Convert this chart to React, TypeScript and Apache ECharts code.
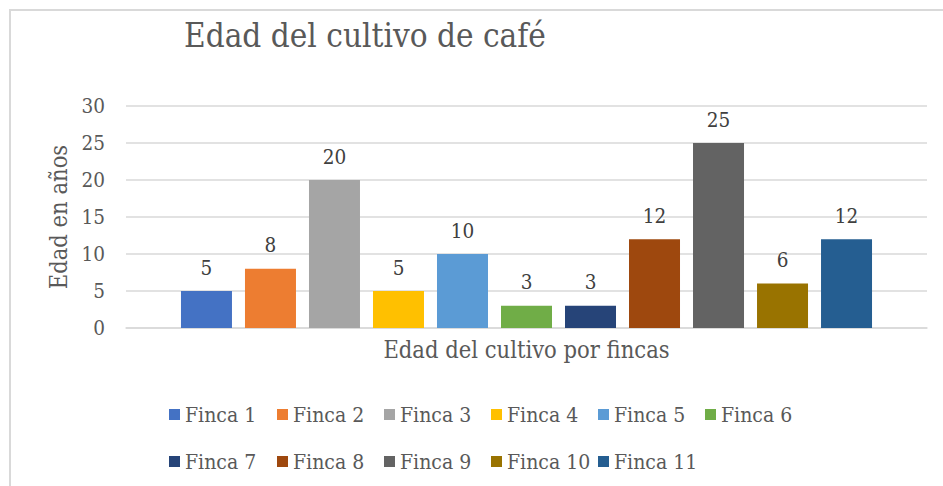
import React, { useEffect, useRef } from "react";
import * as echarts from "echarts";

const fincas = ["Finca 1", "Finca 2", "Finca 3", "Finca 4", "Finca 5", "Finca 6", "Finca 7", "Finca 8", "Finca 9", "Finca 10", "Finca 11"];
const edades = [5, 8, 20, 5, 10, 3, 3, 12, 25, 6, 12];
const colores = ["#4472C4", "#ED7D31", "#A5A5A5", "#FFC000", "#5B9BD5", "#70AD47", "#264478", "#9E480E", "#636363", "#997300", "#255E91"];
const categorias = [""];
const titulo = "Edad del cultivo de café";
const nombreY = "Edad en años";
const nombreX = "Edad del cultivo por fincas";

const FONT = "DejaVu Serif Condensed";
const legendCols = [169, 277, 384, 491, 598, 705];
const legendRows = [404, 451];

export default function App() {
  const ref = useRef<HTMLDivElement>(null);
  useEffect(() => {
    if (!ref.current) return;
    const chart = echarts.init(ref.current, null, { renderer: "svg" });
    const legends = fincas.map((f, i) => ({
      left: legendCols[i % 6],
      top: legendRows[Math.floor(i / 6)],
      padding: 0,
      itemWidth: 11,
      itemHeight: 11,
      icon: "rect",
      data: [f],
      textStyle: { fontFamily: FONT, fontSize: 21, color: "#595959" },
    }));
    chart.setOption({
      animation: false,
      backgroundColor: "#ffffff",
      graphic: [
        {
          type: "rect",
          shape: { x: 10, y: 10, width: 1000, height: 1000 },
          style: { fill: "none", stroke: "#d9d9d9", lineWidth: 2 },
          silent: true,
        },
      ],
      title: {
        text: titulo,
        left: 184,
        top: 19,
        padding: 0,
        textStyle: { fontFamily: FONT, fontSize: 33, fontWeight: "normal", color: "#595959" },
      },
      legend: legends,
      grid: { left: 126, right: 16, top: 106, bottom: 158, containLabel: false },
      xAxis: {
        type: "category",
        data: categorias,
        axisLine: { lineStyle: { color: "#d9d9d9", width: 1.5 } },
        axisTick: { show: false },
        axisLabel: { show: false },
        name: nombreX,
        nameLocation: "middle",
        nameGap: 10,
        nameTextStyle: { fontFamily: FONT, fontSize: 23.5, color: "#595959", verticalAlign: "top" },
      },
      yAxis: {
        type: "value",
        min: 0,
        max: 30,
        interval: 5,
        axisLine: { show: false },
        axisTick: { show: false },
        splitLine: { lineStyle: { color: "#d9d9d9", width: 1.5 } },
        axisLabel: { fontFamily: FONT, fontSize: 20.5, color: "#595959", margin: 21 },
        name: nombreY,
        nameLocation: "middle",
        nameGap: 55,
        nameRotate: 90,
        nameTextStyle: { fontFamily: FONT, fontSize: 23.5, color: "#595959" },
      },
      series: fincas.map((f, i) => ({
        name: f,
        type: "bar",
        data: [edades[i]],
        barWidth: 51,
        barGap: "25.5%",
        itemStyle: { color: colores[i] },
        label: {
          show: true,
          position: "top",
          distance: 13,
          fontFamily: FONT,
          fontSize: 20.5,
          color: "#404040",
        },
      })),
    });
    return () => chart.dispose();
  }, []);
  return <div ref={ref} style={{ position: "fixed", left: 0, top: 0, width: 943, height: 486 }} />;
}
